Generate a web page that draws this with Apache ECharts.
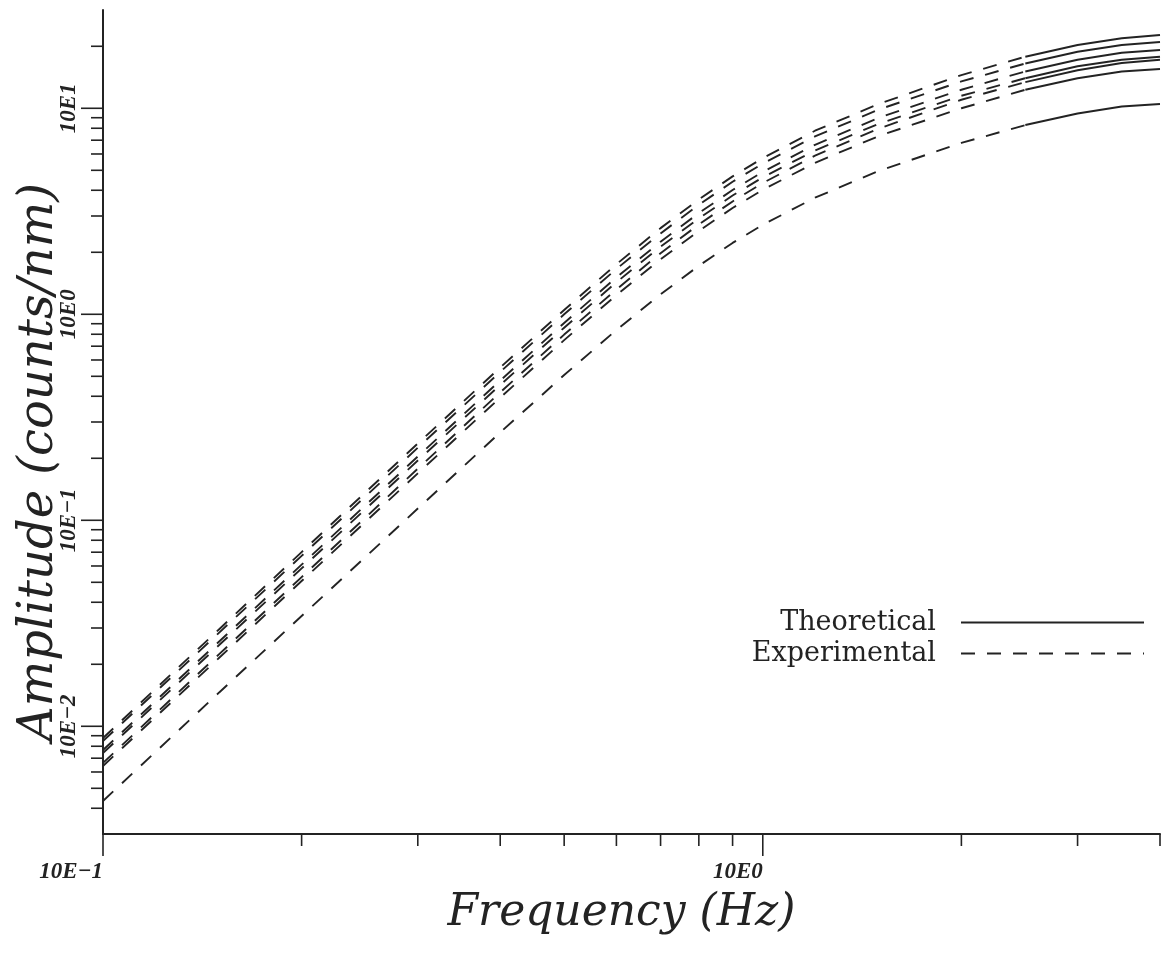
<!DOCTYPE html>
<html>
<head>
<meta charset="utf-8">
<script src="https://cdn.jsdelivr.net/npm/echarts@6/dist/echarts.min.js"></script>
<style>
  html, body { margin: 0; padding: 0; background: #ffffff; }
  #chart { width: 1167px; height: 955px; }
</style>
</head>
<body>
<div id="chart"></div>
<script>
// Frequency samples (Hz) shared by every response curve
const freq = [0.1, 0.15, 0.2, 0.3, 0.4, 0.5, 0.6, 0.7, 0.8, 0.9, 1.0, 1.2, 1.5, 2.0, 2.5, 3.0, 3.5, 4.0];
// Measured response is drawn up to this frequency, the modelled response beyond it
const switchFreq = 2.5;

// Amplitude response (counts/nm), one array per channel
const ampCh1 = [0.00877, 0.0296, 0.0701, 0.236, 0.552, 1.05, 1.75, 2.62, 3.61, 4.67, 5.73, 7.78, 10.5, 14.5, 17.8, 20.3, 21.9, 22.7];
const ampCh2 = [0.00848, 0.0285, 0.0672, 0.225, 0.525, 1.00, 1.66, 2.47, 3.40, 4.40, 5.39, 7.30, 9.87, 13.5, 16.5, 18.8, 20.3, 21.0];
const ampCh3 = [0.00767, 0.0258, 0.0609, 0.204, 0.477, 0.908, 1.51, 2.25, 3.10, 4.01, 4.91, 6.65, 9.00, 12.3, 15.1, 17.2, 18.6, 19.2];
const ampCh4 = [0.00742, 0.0248, 0.0584, 0.195, 0.454, 0.861, 1.43, 2.13, 2.92, 3.77, 4.62, 6.24, 8.42, 11.5, 14.0, 16.0, 17.2, 17.8];
const ampCh5 = [0.00664, 0.0224, 0.0530, 0.178, 0.418, 0.797, 1.32, 1.98, 2.73, 3.53, 4.34, 5.89, 7.98, 11.0, 13.4, 15.3, 16.6, 17.2];
const ampCh6 = [0.00642, 0.0215, 0.0507, 0.169, 0.394, 0.749, 1.24, 1.85, 2.54, 3.28, 4.02, 5.44, 7.34, 10.0, 12.3, 14.0, 15.1, 15.5];
const ampCh7 = [0.00434, 0.0146, 0.0343, 0.114, 0.267, 0.507, 0.839, 1.25, 1.72, 2.22, 2.72, 3.68, 4.97, 6.79, 8.29, 9.44, 10.2, 10.5];
const channels = [ampCh1, ampCh2, ampCh3, ampCh4, ampCh5, ampCh6, ampCh7];

// Axis ranges
const freqMin = 0.1, freqMax = 4;
const ampMin = 0.003, ampMax = 30;

// Tick positions and the labels of the decade ticks
const majorTicksX = [0.1, 1];
const xTickLabels = ['10E\u22121', '10E0'];
const minorTicksX = [0.2, 0.3, 0.4, 0.5, 0.6, 0.7, 0.8, 0.9, 2, 3, 4];
const majorTicksY = [0.01, 0.1, 1, 10];
const yTickLabels = ['10E\u22122', '10E\u22121', '10E0', '10E1'];
const minorTicksY = [0.004, 0.005, 0.006, 0.007, 0.008, 0.009,
                     0.02, 0.03, 0.04, 0.05, 0.06, 0.07, 0.08, 0.09,
                     0.2, 0.3, 0.4, 0.5, 0.6, 0.7, 0.8, 0.9,
                     2, 3, 4, 5, 6, 7, 8, 9, 20];

const legendNames = ['Theoretical', 'Experimental'];

const ink = '#232323';

function labelFor(values, labels) {
  return function (v) {
    for (let i = 0; i < values.length; i++) {
      if (Math.abs(Math.log10(v) - Math.log10(values[i])) < 1e-6) return labels[i];
    }
    return '';
  };
}

const series = [];
channels.forEach(function (amp) {
  const measured = [], modelled = [];
  freq.forEach(function (f, i) {
    if (f <= switchFreq) measured.push([f, amp[i]]);
    if (f >= switchFreq) modelled.push([f, amp[i]]);
  });
  series.push({
    name: 'Experimental', type: 'line', data: measured,
    symbol: 'none', smooth: false,
    lineStyle: { color: ink, width: 1.9, type: [14, 12] },
    itemStyle: { color: ink }, z: 2
  });
  series.push({
    name: 'Theoretical', type: 'line', data: modelled,
    symbol: 'none', smooth: false,
    lineStyle: { color: ink, width: 2, type: 'solid' },
    itemStyle: { color: ink }, z: 2
  });
});

// Axis ticks: drawn at the tick values through the axis scales
const tickData = [];
majorTicksX.forEach(function (v) { tickData.push([v, ampMin, 0, 1]); });
minorTicksX.forEach(function (v) { tickData.push([v, ampMin, 0, 0]); });
majorTicksY.forEach(function (v) { tickData.push([freqMin, v, 1, 1]); });
minorTicksY.forEach(function (v) { tickData.push([freqMin, v, 1, 0]); });

series.push({
  type: 'custom',
  coordinateSystem: 'cartesian2d',
  silent: true,
  clip: false,
  z: 3,
  data: tickData,
  encode: { x: 0, y: 1 },
  renderItem: function (params, api) {
    const onYAxis = api.value(2) === 1;
    const len = api.value(3) === 1 ? 22 : 12;
    const p = api.coord([api.value(0), api.value(1)]);
    const shape = onYAxis
      ? { x1: p[0], y1: p[1], x2: p[0] - len, y2: p[1] }
      : { x1: p[0], y1: p[1], x2: p[0], y2: p[1] + len };
    return { type: 'line', shape: shape, style: { stroke: ink, lineWidth: 1.6 } };
  }
});

const chart = echarts.init(document.getElementById('chart'), null, { renderer: 'canvas' });
chart.setOption({
  animation: false,
  backgroundColor: '#ffffff',
  grid: { left: 103, right: 7, top: 10, bottom: 121, containLabel: false, outerBoundsMode: 'none' },
  legend: {
    data: legendNames,
    orient: 'vertical',
    align: 'right',
    right: 22,
    top: 609,
    padding: 0,
    itemWidth: 183,
    itemHeight: 12,
    itemGap: 4,
    selectedMode: false,
    itemStyle: { color: 'transparent', borderColor: 'transparent', borderWidth: 0, opacity: 0 },
    textStyle: {
      fontFamily: 'DejaVu Serif', fontSize: 27, color: ink,
      padding: [0, 20, 0, 0]
    }
  },
  xAxis: {
    type: 'log', logBase: 10, min: freqMin, max: freqMax,
    name: 'Frequency (Hz)', nameLocation: 'middle', nameGap: 58, nameMoveOverlap: false,
    nameTextStyle: {
      fontFamily: 'DejaVu Serif', fontStyle: 'italic', fontSize: 44, color: ink,
      padding: [0, 20, 0, 0]
    },
    axisLine: { show: true, lineStyle: { color: ink, width: 2 } },
    axisTick: { show: false },
    splitLine: { show: false },
    minorTick: { show: false },
    axisLabel: {
      margin: 27, color: ink, align: 'right',
      fontFamily: 'Liberation Serif', fontStyle: 'italic', fontWeight: 'bold', fontSize: 23,
      formatter: labelFor(majorTicksX, xTickLabels)
    }
  },
  yAxis: {
    type: 'log', logBase: 10, min: ampMin, max: ampMax,
    name: 'Amplitude (counts/nm)', nameLocation: 'middle', nameGap: 39, nameMoveOverlap: false,
    nameTextStyle: {
      fontFamily: 'DejaVu Serif', fontStyle: 'italic', fontSize: 48, color: ink,
      padding: [0, 80, 0, 0]
    },
    axisLine: { show: true, lineStyle: { color: ink, width: 2 } },
    axisTick: { show: false },
    splitLine: { show: false },
    minorTick: { show: false },
    axisLabel: {
      rotate: 90, margin: 22, color: ink,
      fontFamily: 'Liberation Serif', fontStyle: 'italic', fontWeight: 'bold', fontSize: 23,
      formatter: labelFor(majorTicksY, yTickLabels)
    }
  },
  series: series
});
</script>
</body>
</html>
